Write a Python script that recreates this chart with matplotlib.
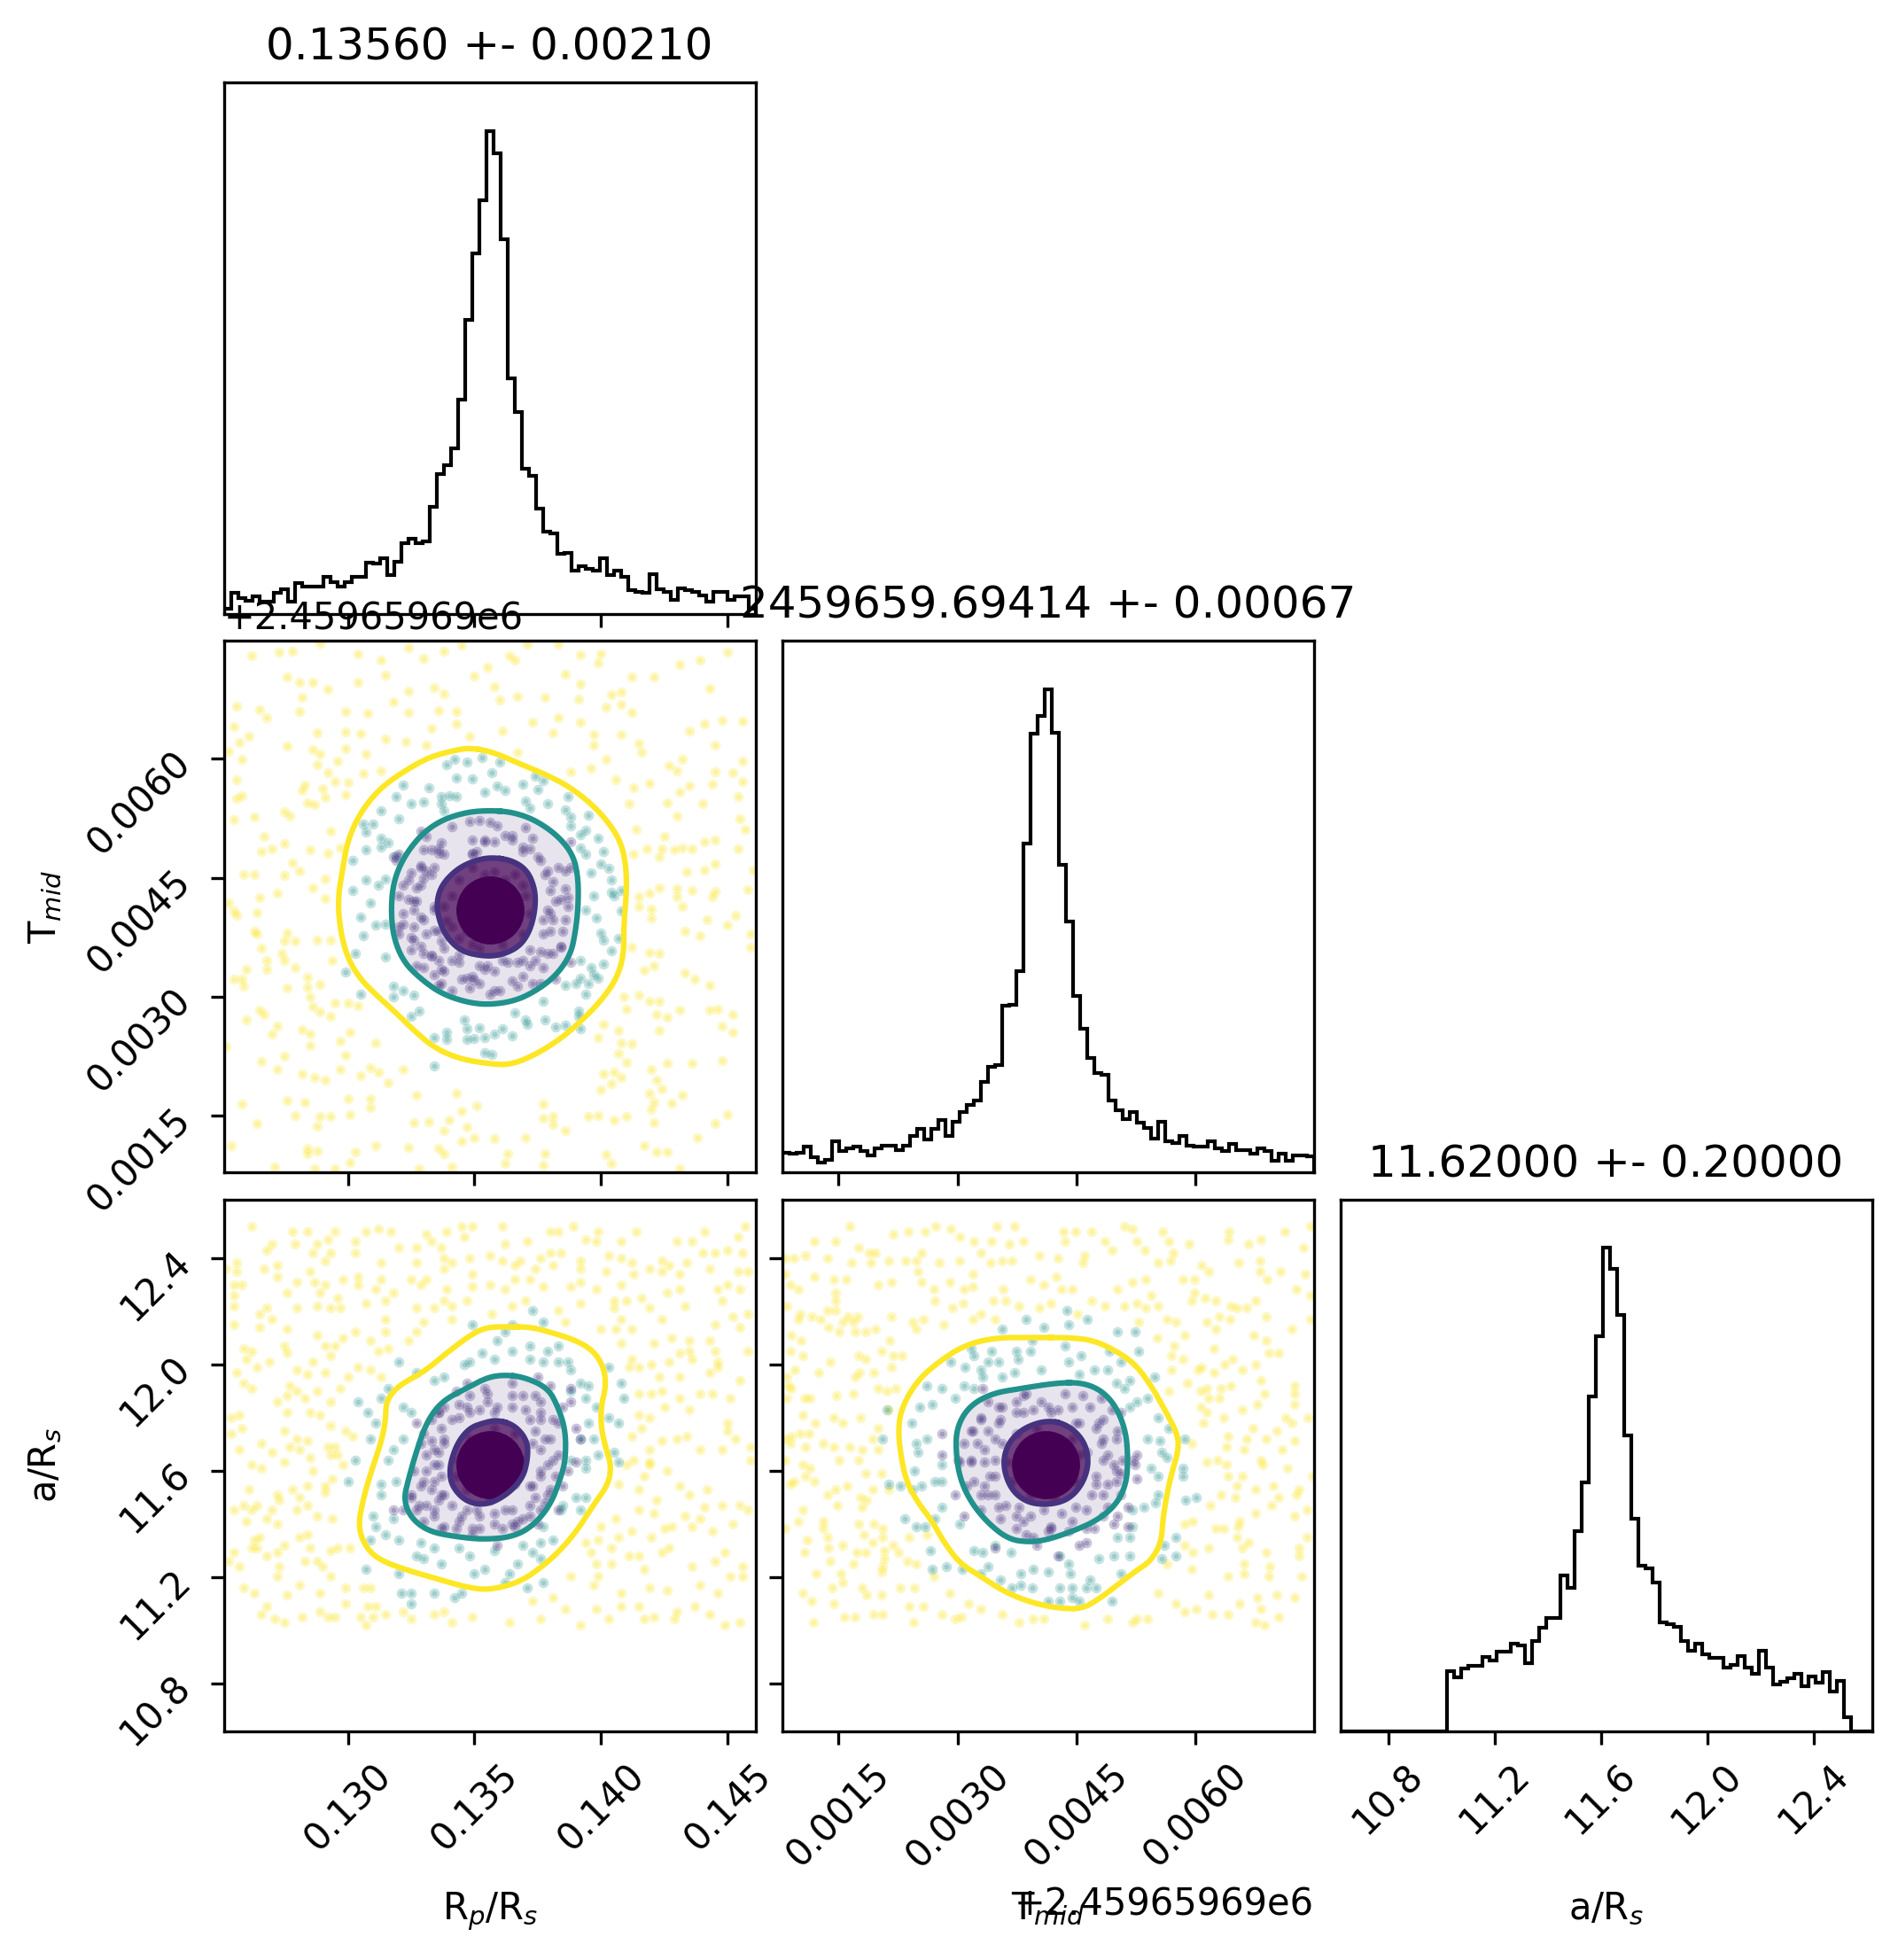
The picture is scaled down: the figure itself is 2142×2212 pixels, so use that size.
import numpy as np
import matplotlib
matplotlib.use("Agg")
import matplotlib.pyplot as plt

# ---------- histogram heights (relative counts), 75 bins per parameter ----------
rp_hist = [15,59,44,37,50,34,34,60,69,34,86,75,75,75,102,88,75,88,102,102,142,140,154,109,144,195,209,196,202,297,387,412,459,594,814,997,1145,1337,1274,1037,652,560,402,382,292,227,224,167,170,119,132,125,120,155,109,121,104,67,62,59,110,69,61,39,70,67,61,52,35,62,62,39,48,49,15]
t_hist = [55,53,56,74,42,28,35,88,60,68,74,61,48,69,77,77,63,77,104,125,93,125,150,103,144,172,193,205,258,300,307,476,479,575,939,1253,1302,1380,1255,878,715,504,409,327,284,279,204,177,151,173,142,126,95,145,88,83,104,77,73,74,89,69,61,82,64,63,54,69,61,32,54,32,49,49,46]
a_hist = [0]*15 + [170,152,178,187,187,210,200,227,227,248,245,193,257,295,323,323,443,408,571,710,955,1128,1380,1320,1187,843,607,472,464,423,310,305,297,257,229,248,220,208,208,180,188,215,180,162,230,180,132,140,150,162,127,155,139,169,112,143,39,0,0,0]

# parameter ranges (centre +- 5 sigma)
rp_mid, rp_err = 0.13560, 0.00210
t_zero = 2459659.69
t_mid, t_err = 2459659.69414, 0.00067
a_mid, a_err = 11.62, 0.20

rp_ticks = [0.130, 0.135, 0.140, 0.145]
t_ticks_rel = [0.0015, 0.0030, 0.0045, 0.0060]
a_ticks = [10.8, 11.2, 11.6, 12.0, 12.4]

titles = ["0.13560 +- 0.00210", "2459659.69414 +- 0.00067", "11.62000 +- 0.20000"]
labels = ["R$_p$/R$_s$", "T$_{mid}$", "a/R$_s$"]

# ---------- sample readings. Units: Rp in 1e-4, T in 1e-5 past t_zero, a in 0.01 ----------
rp_t_yellow = [(1262,730),(1273,734),(1278,736),(1289,746),(1304,732),(1313,724),(1324,740),(1330,727),(1338,736),(1345,743),(1364,730),(1371,744),(1383,744),(1392,731),(1400,732),(1399,721),(1431,719),(1439,724),(1450,735),
(1276,703),(1281,696),(1286,697),(1304,696),(1292,688),(1315,706),(1324,685),(1334,690),(1338,682),(1350,704),(1358,691),(1355,716),(1366,724),(1386,707),(1392,694),(1404,681),(1408,684),(1412,703),(1421,703),(1443,689),
(1256,666),(1265,662),(1268,652),(1281,660),(1282,678),(1299,660),(1308,657),(1318,672),(1324,658),(1336,661),(1343,660),(1360,674),(1367,679),(1378,677),(1391,675),(1402,665),(1408,669),(1412,659),(1373,646),(1383,652),
(1255,641),(1261,628),(1257,621),(1288,633),(1299,634),(1305,632),(1315,625),(1323,622),(1333,638),(1343,644),(1348,628),(1361,635),(1381,633),(1392,646),(1397,631),(1408,631),(1435,635),(1441,644),(1448,649),(1456,647),
(1253,609),(1258,599),(1276,616),(1286,612),(1289,606),(1299,613),(1296,597),(1307,606),(1288,593),(1331,617),(1367,608),(1397,617),(1415,619),(1416,608),(1402,599),(1445,617),(1432,599),(1456,597),
(1256,574),(1292,583),(1313,585),(1295,571),(1300,570),(1306,581),(1283,567),(1282,560),(1290,562),(1299,555),(1291,551),(1258,554),(1256,550),(1388,584),(1396,588),(1406,574),(1413,564),(1419,569),(1427,592),(1430,585),(1445,584),(1452,583),(1435,566),(1444,568),(1456,572),(1431,558),(1454,552),
(1284,545),(1287,542),(1275,533),(1277,528),(1263,527),(1255,523),(1411,543),(1426,545),(1440,544),(1430,528),(1455,524),(1457,511),(1267,502),(1275,493),(1266,483),(1270,487),(1285,485),(1292,481),(1293,509),(1297,488),(1414,511),(1425,502),(1441,495),(1445,498),(1424,487),(1429,485),(1432,488),(1436,487),(1454,487),(1418,487),(1413,480),(1423,476),(1434,458),(1441,460),(1445,468),(1460,460),
(1278,469),(1281,459),(1259,454),(1263,454),(1275,453),(1291,449),(1286,437),(1272,431),(1265,425),(1291,424),(1253,419),(1264,406),(1255,408),(1256,403),(1423,438),(1419,431),(1415,426),(1430,436),(1430,426),(1436,434),(1445,433),(1444,426),(1458,435),(1415,414),(1420,411),(1432,414),(1420,400),(1442,397),(1453,403),(1450,390),(1433,383),(1439,377),(1459,379),(1459,363),
(1263,383),(1276,380),(1264,379),(1275,370),(1279,370),(1288,372),(1293,372),(1266,361),(1274,355),(1268,346),(1275,346),(1279,337),(1260,335),(1268,335),(1294,346),(1284,325),(1255,322),(1258,322),(1259,314),(1276,311),(1284,312),(1289,316),(1285,300),(1295,292),(1300,292),(1304,289),(1286,288),(1265,283),(1267,278),(1289,281),(1293,275),(1260,271),(1272,263),(1282,259),(1270,253),(1285,253),(1252,238),(1297,244),(1301,255),(1311,242),(1285,239),(1275,225),(1266,219),(1272,208),(1299,226),(1282,203),(1287,198),(1297,208),(1291,195),(1305,201),(1309,211),(1312,205),(1322,208),(1316,192),
(1412,363),(1419,356),(1423,355),(1417,334),(1421,339),(1433,330),(1437,322),(1443,315),(1409,300),(1415,302),(1419,294),(1423,294),(1410,285),(1431,283),(1443,283),(1446,284),(1452,278),(1422,278),(1426,274),(1401,265),(1407,258),(1423,258),(1448,263),(1452,255),(1399,249),(1408,242),(1412,241),(1407,229),(1410,218),(1420,208),(1426,216),(1436,216),(1448,220),(1401,203),(1422,195),(1405,205),(1404,191),(1408,198),(1400,183),(1419,178),(1424,184),(1432,176),(1421,167),(1428,166),(1420,158),
(1258,165),(1264,140),(1276,169),(1279,150),(1283,167),(1288,137),(1289,149),(1293,149),(1300,172),(1301,152),(1309,172),(1309,161),(1326,142),(1332,143),(1327,176),(1343,178),(1351,163),(1340,145),(1345,156),(1347,136),(1338,132),(1350,123),(1358,121),(1370,123),(1377,165),(1381,149),(1377,147),(1386,132),(1381,139),(1395,149),(1399,150),(1405,145),(1410,149),(1421,141),(1445,140),(1450,152),(1438,123),(1254,113),(1284,109),(1284,102),(1288,106),(1303,105),(1311,113),(1324,110),(1336,109),(1338,103),(1345,118),(1363,102),(1378,103),(1402,101),(1404,90),(1417,113),(1422,105),(1426,105),(1271,86),(1287,84),(1295,83),(1301,91),(1328,83),(1341,86),(1362,90),(1377,88),(1431,83)]
rp_t_teal = [(1339,593),(1342,599),(1347,596),(1353,602),(1360,596),(1357,583),(1343,576),(1349,575),(1359,566),(1369,568),(1374,578),(1377,573),(1332,564),(1337,553),(1340,554),(1343,552),(1354,558),(1362,560),(1375,561),(1322,567),(1319,553),(1325,544),(1330,546),(1337,544),(1338,535),(1370,547),(1372,538),(1379,543),(1387,552),(1395,529),(1388,527),(1386,536),(1313,535),(1320,524),(1310,518),(1306,518),(1307,508),(1316,494),(1313,500),(1313,489),(1307,486),(1302,472),(1319,478),(1388,516),(1392,505),(1394,510),(1399,500),(1401,483),(1392,488),(1394,480),(1400,468),(1403,462),(1396,456),(1404,447),(1404,432),(1405,427),(1408,434),(1397,427),(1408,408),(1394,410),(1398,399),(1400,380),(1407,374),(1404,358),(1401,372),(1401,341),(1396,337),(1392,346),(1397,328),(1399,324),(1392,324),(1386,315),(1390,317),(1395,317),(1394,304),(1391,282),(1391,275),(1386,264),(1382,262),(1392,260),(1378,271),(1377,295),(1370,271),(1371,266),(1366,280),(1361,260),(1358,253),(1365,251),(1354,249),(1350,248),(1347,247),(1339,255),(1339,247),(1334,249),(1334,213),(1354,230),(1357,228),(1347,260),(1346,271),(1352,261),(1328,282),(1325,275),(1318,300),(1326,302),(1322,308),(1318,313),(1305,304),(1315,350),(1303,355),(1306,377),(1311,390),(1315,392),(1305,401),(1309,419),(1302,434),(1307,447),(1312,441),(1315,449),(1299,331)]
rp_t_blue = [(1348,521),(1352,522),(1356,520),(1359,516),(1341,515),(1329,509),(1331,502),(1336,487),(1330,485),(1320,480),(1318,476),(1329,463),(1333,454),(1324,447),(1327,438),(1320,427),(1326,421),(1322,405),(1326,388),(1320,379),(1331,379),(1326,372),(1325,359),(1333,352),(1338,361),(1337,335),(1330,337),(1347,324),(1350,321),(1344,344),(1356,304),(1360,308),(1354,335),(1367,313),(1363,344),(1369,346),(1373,317),(1376,357),(1381,355),(1384,363),(1388,344),(1380,383),(1385,383),(1387,414),(1382,421),(1380,434),(1386,436),(1378,454),(1383,463),(1388,463),(1375,476),(1369,489),(1365,498),(1354,496),(1358,496),(1349,480),(1349,498),(1338,480),(1370,513),(1373,500),(1388,496),(1334,414),(1330,397),(1336,383),(1377,397),(1380,405),(1341,346),(1352,339),(1348,311),(1337,317),(1334,328),(1377,337),(1382,322),(1372,339),(1358,333),
(1341,427),(1344,447),(1349,463),(1358,458),(1366,454),(1370,427),(1372,405),(1369,379),(1361,366),(1352,361),(1344,374),(1339,396),(1338,414),(1347,383),(1365,388),(1369,441),(1354,454),(1341,388),(1362,447),(1349,366),
(1331,459),(1334,463),(1330,450),(1336,481),(1333,485),(1337,494),(1349,481),(1351,483),(1354,498),(1362,503),(1365,503),(1369,483),(1372,487),(1376,472),(1379,459),(1381,445),(1386,459),(1384,423),(1387,425),(1379,410),(1381,397),(1386,397),(1377,379),(1384,364),(1379,355),(1372,359),(1374,346),(1367,344),(1361,346),(1355,339),(1349,326),(1345,322),(1338,333),(1333,353),(1336,346),(1329,364),(1330,355),(1325,375),(1322,392),(1326,410),(1329,401),(1324,423),(1327,421),(1322,441),(1329,441),(1325,456),(1329,465),(1319,472),(1334,410),(1334,384),(1337,370),(1344,353),(1352,317),(1358,308),(1365,320),(1369,326),(1376,317),(1341,308),(1336,315),(1327,339),(1320,388)]
rp_t_core = [(1356,410)]
rp_t_contour_yellow = [(1348,614),(1357,609),(1367,595),(1377,582),(1387,566),(1396,544),(1403,520),(1408,494),(1410,463),(1410,427),(1409,392),(1409,352),(1406,322),(1400,295),(1392,269),(1384,247),(1374,227),(1364,214),(1355,216),(1344,222),(1334,236),(1326,258),(1319,280),(1312,300),(1305,322),(1300,348),(1297,383),(1296,423),(1298,463),(1300,498),(1305,533),(1313,564),(1323,586),(1332,602),(1341,610)]
rp_t_contour_teal = [(1356,535),(1365,533),(1374,523),(1383,503),(1389,479),(1391,450),(1391,415),(1390,384),(1388,353),(1382,326),(1374,307),(1366,295),(1356,290),(1347,293),(1337,304),(1329,322),(1322,344),(1318,375),(1317,410),(1318,445),(1322,476),(1329,505),(1337,523),(1347,533)]
rp_t_contour_purple = [(1357,476),(1365,472),(1371,459),(1374,435),(1374,410),(1372,384),(1368,364),(1361,353),(1354,351),(1345,357),(1339,375),(1336,397),(1335,419),(1337,441),(1343,461),(1350,472)]

rp_a_yellow = [(1262,1252),(1278,1250),(1284,1250),(1295,1250),(1307,1250),(1312,1251),(1317,1250),(1331,1249),(1339,1250),(1345,1252),(1349,1252),(1361,1252),(1380,1250),(1383,1250),(1389,1252),(1399,1250),(1414,1250),(1441,1250),(1457,1252),
(1270,1245),(1279,1245),(1288,1245),(1292,1247),(1303,1246),(1303,1242),(1320,1244),(1327,1244),(1333,1246),(1337,1244),(1346,1248),(1362,1245),(1371,1246),(1394,1247),(1398,1246),(1408,1246),(1430,1246),(1436,1246),(1454,1248),
(1268,1243),(1286,1242),(1293,1242),(1291,1239),(1348,1240),(1356,1241),(1338,1240),(1361,1239),(1368,1239),(1376,1240),(1384,1242),(1380,1242),(1392,1239),(1403,1241),(1408,1240),(1445,1242),(1450,1243),(1440,1242),(1456,1242),
(1256,1238),(1256,1235),(1252,1236),(1267,1236),(1272,1237),(1285,1235),(1313,1238),(1327,1238),(1338,1236),(1341,1238),(1349,1234),(1366,1237),(1374,1236),(1381,1237),(1392,1236),(1402,1235),(1412,1238),(1413,1234),(1419,1236),(1424,1239),(1424,1235),(1427,1237),(1431,1234),(1434,1238),(1443,1236),(1454,1235),(1458,1235),
(1255,1230),(1258,1230),(1255,1226),(1255,1222),(1272,1233),(1280,1231),(1287,1231),(1291,1230),(1298,1232),(1304,1233),(1304,1230),(1313,1232),(1289,1227),(1296,1225),(1276,1227),(1311,1228),(1318,1227),(1325,1232),(1329,1230),(1315,1224),(1307,1223),(1288,1222),(1293,1221),(1297,1221),(1280,1221),(1268,1221),(1331,1232),(1339,1228),(1349,1229),(1356,1230),(1362,1228),(1366,1232),(1372,1232),(1377,1229),(1392,1231),(1388,1229),(1398,1228),(1408,1230),(1416,1225),(1426,1227),(1431,1228),(1446,1228),(1455,1228),(1450,1230),(1405,1224),(1410,1224),(1338,1224),(1347,1224),(1370,1224),(1392,1223),(1405,1221),(1419,1221),(1433,1222),(1448,1224),(1327,1221),(1334,1221),(1341,1222),(1357,1219),(1365,1222),(1383,1220),
(1265,1219),(1270,1217),(1255,1215),(1265,1214),(1276,1213),(1288,1211),(1298,1210),(1303,1212),(1315,1212),(1327,1212),(1330,1216),(1341,1217),(1315,1217),(1324,1209),(1309,1209),(1291,1207),(1295,1207),(1275,1207),(1259,1206),(1276,1204),(1262,1205),(1260,1202),(1269,1201),(1286,1201),(1293,1203),(1312,1205),(1304,1199),(1316,1206),(1264,1199),(1256,1197),(1280,1198),(1291,1197),(1284,1196),(1300,1195),(1309,1198),(1313,1195),
(1386,1216),(1400,1213),(1406,1213),(1412,1213),(1424,1217),(1408,1217),(1445,1215),(1455,1214),(1452,1218),(1458,1219),(1408,1208),(1421,1208),(1428,1210),(1435,1209),(1443,1209),(1431,1204),(1435,1205),(1445,1205),(1458,1205),(1412,1202),(1420,1200),(1427,1201),(1436,1202),(1446,1201),(1415,1199),(1411,1199),(1423,1195),(1431,1195),(1455,1194),(1446,1199),(1443,1197),
(1259,1193),(1262,1191),(1277,1192),(1288,1190),(1280,1190),(1297,1191),(1272,1186),(1276,1188),(1283,1187),(1293,1186),(1285,1182),(1276,1182),(1289,1181),(1254,1180),(1257,1181),(1258,1176),(1275,1175),(1293,1177),(1299,1175),(1302,1173),(1254,1174),(1280,1172),(1284,1171),(1266,1170),(1277,1169),(1281,1168),(1292,1169),(1295,1169),(1257,1168),(1270,1167),(1285,1165),(1293,1166),(1296,1166),
(1415,1189),(1420,1189),(1424,1190),(1431,1187),(1439,1189),(1444,1189),(1435,1183),(1451,1187),(1425,1184),(1415,1181),(1419,1180),(1416,1176),(1450,1178),(1450,1175),(1412,1173),(1430,1172),(1434,1173),(1453,1172),(1424,1171),(1459,1169),(1439,1168),(1448,1168),(1419,1168),(1410,1162),(1419,1163),(1426,1160),(1459,1164),(1413,1164),
(1262,1162),(1266,1161),(1275,1163),(1286,1160),(1294,1157),(1298,1162),(1284,1154),(1278,1153),(1291,1154),(1261,1153),(1272,1151),(1273,1149),(1281,1150),(1284,1147),(1291,1152),(1264,1147),(1259,1147),(1255,1145),(1262,1145),(1270,1145),(1268,1142),(1260,1141),(1288,1143),(1294,1142),(1272,1140),(1280,1145),(1284,1136),(1265,1135),(1281,1135),(1263,1134),(1262,1131),(1275,1132),(1264,1131),(1285,1131),(1293,1130),(1296,1131),(1301,1131),(1255,1129),(1268,1128),(1272,1129),(1253,1126),(1283,1126),(1288,1126),(1257,1124),(1290,1124),(1273,1124),
(1417,1158),(1431,1154),(1442,1153),(1407,1155),(1415,1153),(1419,1162),(1435,1151),(1422,1149),(1415,1145),(1448,1147),(1441,1146),(1455,1147),(1458,1145),(1421,1144),(1433,1143),(1439,1142),(1406,1142),(1400,1139),(1428,1139),(1425,1138),(1436,1139),(1452,1140),(1444,1137),(1420,1135),(1407,1135),(1399,1134),(1412,1137),(1394,1133),(1404,1131),(1427,1131),(1424,1129),(1411,1128),(1415,1128),(1396,1129),(1436,1124),(1445,1126),(1449,1129),(1456,1124),(1398,1125),(1404,1125),(1388,1120),
(1272,1120),(1281,1117),(1259,1116),(1263,1114),(1276,1113),(1289,1114),(1293,1120),(1299,1116),(1306,1116),(1309,1116),(1268,1109),(1266,1106),(1271,1104),(1275,1103),(1282,1105),(1289,1107),(1292,1105),(1295,1105),(1299,1110),(1305,1105),(1308,1109),(1310,1105),(1315,1106),(1311,1109),(1322,1107),(1325,1104),(1307,1102),(1334,1106),(1341,1103),(1338,1107),(1349,1105),(1364,1103),(1376,1104),(1373,1111),(1381,1112),(1386,1108),(1392,1102),(1398,1108),(1403,1104),(1408,1109),(1415,1109),(1417,1104),(1421,1105),(1429,1104),(1430,1107),(1437,1109),(1443,1106),(1449,1102),(1455,1103),(1408,1114),(1397,1117),(1399,1120),(1419,1116),(1426,1115),(1439,1117),(1446,1114),(1451,1120),(1456,1120),(1417,1123)]
rp_a_teal = [(1362,1212),(1349,1215),(1373,1220),(1377,1216),(1365,1215),(1348,1201),(1353,1204),(1359,1209),(1365,1205),(1372,1207),(1383,1207),(1379,1205),(1387,1201),(1346,1200),(1358,1202),(1372,1202),(1388,1198),(1383,1201),(1377,1201),(1403,1199),(1408,1193),(1392,1193),(1395,1192),(1388,1190),(1394,1187),(1409,1187),(1398,1184),(1407,1178),(1403,1180),(1395,1178),(1392,1172),(1397,1172),(1399,1166),(1405,1167),(1394,1164),(1388,1164),(1394,1161),(1407,1163),(1390,1150),(1394,1150),(1392,1145),(1385,1147),(1384,1145),(1377,1139),(1381,1134),(1376,1133),(1369,1132),(1373,1129),(1376,1127),(1367,1125),(1364,1121),(1362,1118),(1371,1116),(1377,1118),(1354,1123),(1348,1128),(1344,1131),(1350,1121),(1342,1112),(1345,1114),(1334,1114),(1325,1114),(1321,1114),(1325,1110),(1337,1125),(1327,1128),(1330,1127),(1320,1121),(1307,1123),(1315,1136),(1309,1134),(1311,1139),(1310,1143),(1300,1156),(1303,1164),(1309,1172),(1311,1178),(1308,1182),(1304,1186),(1313,1187),(1322,1184),(1325,1182),(1316,1191),(1320,1201),(1327,1197),(1338,1195),(1334,1194),(1322,1172),(1318,1168),(1316,1164),(1313,1155),(1313,1151),(1319,1156),(1318,1142),(1320,1134),(1329,1133),(1334,1131),(1358,1130)]
rp_a_blue = [(1355,1189),(1347,1193),(1365,1193),(1375,1195),(1380,1192),(1336,1182),(1344,1185),(1355,1186),(1365,1188),(1374,1188),(1376,1182),(1381,1179),(1372,1179),(1378,1172),(1381,1164),(1376,1160),(1380,1153),(1374,1150),(1378,1148),(1367,1141),(1365,1140),(1358,1140),(1352,1138),(1345,1143),(1337,1138),(1334,1145),(1328,1147),(1330,1156),(1334,1162),(1336,1167),(1333,1171),(1341,1179),(1348,1182),(1325,1150),(1327,1178),(1388,1186),(1390,1176),(1390,1163),(1385,1154),(1383,1145),(1375,1140),(1359,1132),(1349,1136),(1343,1138),(1330,1141),(1322,1145),(1318,1145),(1344,1164),(1343,1158),(1347,1153),(1356,1149),(1366,1155),(1369,1164),(1366,1174),(1358,1176),(1348,1172),(1337,1158),(1338,1151),(1351,1145),(1362,1145),(1372,1154),(1373,1170),(1338,1170),(1333,1153),(1336,1149),
(1331,1166),(1334,1168),(1331,1160),(1336,1162),(1334,1156),(1337,1151),(1341,1147),(1347,1145),(1344,1141),(1352,1143),(1358,1144),(1365,1145),(1369,1142),(1372,1147),(1376,1145),(1373,1154),(1376,1158),(1379,1162),(1376,1168),(1380,1172),(1374,1175),(1376,1179),(1370,1183),(1365,1184),(1359,1184),(1358,1182),(1352,1183),(1347,1184),(1344,1180),(1337,1176),(1338,1172),(1336,1182),(1330,1174),(1329,1170),(1326,1160),(1329,1154),(1325,1151),(1331,1147),(1327,1145),(1334,1143),(1338,1139),(1349,1138),(1361,1138),(1366,1139),(1369,1188),(1376,1186),(1383,1178),(1383,1166),(1382,1158),(1379,1151),(1372,1143),(1354,1191),(1348,1188),(1343,1190),(1338,1184),(1333,1179),(1385,1184),(1388,1191),(1392,1172),(1387,1160)]
rp_a_core = [(1356,1162)]
rp_a_contour_yellow = [(1363,1214),(1372,1214),(1380,1212),(1390,1209),(1397,1205),(1401,1199),(1402,1192),(1400,1184),(1400,1176),(1402,1168),(1404,1162),(1403,1155),(1397,1147),(1391,1138),(1384,1130),(1377,1124),(1368,1118),(1356,1115),(1347,1116),(1336,1119),(1325,1122),(1313,1126),(1307,1131),(1304,1139),(1306,1149),(1309,1159),(1313,1170),(1315,1179),(1315,1186),(1320,1192),(1330,1197),(1340,1205),(1350,1212),(1356,1214)]
rp_a_contour_teal = [(1362,1196),(1370,1195),(1379,1191),(1383,1184),(1386,1175),(1386,1164),(1384,1157),(1380,1147),(1373,1139),(1365,1135),(1354,1134),(1343,1135),(1332,1137),(1325,1142),(1322,1149),(1324,1157),(1327,1167),(1331,1178),(1337,1186),(1347,1191),(1355,1195)]
rp_a_contour_purple = [(1359,1179),(1366,1177),(1371,1171),(1371,1164),(1369,1157),(1363,1151),(1355,1147),(1347,1148),(1341,1154),(1340,1161),(1343,1170),(1348,1176),(1354,1178)]

t_a_yellow = [(164,1252),(219,1249),(238,1250),(259,1250),(273,1252),(292,1251),(350,1252),(372,1252),(433,1250),(449,1250),(469,1250),(510,1252),(521,1251),(558,1250),(642,1250),(713,1250),(745,1252),
(120,1246),(147,1246),(175,1244),(189,1242),(197,1242),(255,1242),(303,1248),(321,1246),(343,1246),(330,1242),(365,1245),(383,1246),(403,1241),(436,1246),(460,1241),(486,1246),(495,1243),(526,1246),(536,1243),(592,1245),(566,1246),(572,1242),(641,1247),(667,1245),(683,1247),(736,1244),
(83,1240),(94,1240),(108,1241),(136,1240),(166,1238),(191,1238),(213,1239),(235,1239),(248,1239),(277,1238),(303,1239),(342,1238),(356,1239),(369,1239),(427,1240),(458,1238),(553,1238),(568,1239),(654,1238),(681,1239),(608,1237),
(83,1234),(120,1233),(144,1232),(160,1232),(217,1231),(250,1235),(255,1231),(290,1231),(319,1234),(392,1232),(409,1230),(425,1233),(520,1231),(537,1232),(584,1232),(599,1232),(617,1235),(707,1235),(681,1235),(690,1232),(738,1234),(89,1230),(100,1228),(147,1227),(200,1230),(270,1228),(308,1228),(319,1229),(358,1228),(431,1228),(445,1228),(502,1228),(544,1226),(599,1227),(727,1228),(745,1226),
(85,1222),(147,1224),(147,1220),(136,1220),(162,1218),(174,1218),(217,1218),(272,1224),(294,1221),(307,1223),(345,1224),(361,1224),(378,1222),(403,1221),(418,1223),(451,1219),(469,1224),(486,1222),(511,1222),(526,1223),(537,1221),(553,1222),(595,1224),(612,1225),(625,1224),(645,1222),(652,1221),(665,1221),(676,1224),
(102,1219),(116,1218),(127,1217),(100,1217),(155,1216),(169,1216),(197,1213),(244,1216),(248,1213),(257,1217),(283,1215),(319,1217),(330,1219),(347,1217),(528,1216),(564,1217),(575,1216),(614,1216),(630,1218),(643,1217),(689,1218),(722,1213),(745,1217),
(91,1211),(138,1214),(151,1212),(171,1212),(184,1212),(215,1209),(103,1209),(552,1210),(586,1211),(625,1213),(674,1211),(689,1209),(573,1207),(623,1206),(647,1202),(692,1204),(705,1204),(89,1205),(140,1201),(105,1203),(175,1203),(204,1205),(219,1203),(230,1203),(184,1202),(570,1203),(584,1202),(608,1199),(637,1200),(676,1200),
(95,1198),(85,1195),(87,1192),(125,1197),(177,1197),(195,1197),(217,1199),(171,1195),(91,1191),(200,1191),(211,1190),(222,1191),(570,1198),(590,1193),(603,1198),(623,1197),(659,1198),(645,1192),(683,1194),(725,1192),(632,1191),(606,1190),(614,1191),(566,1190),(687,1189),
(85,1187),(107,1187),(114,1187),(148,1188),(169,1189),(213,1183),(144,1180),(121,1178),(155,1178),(178,1180),(105,1181),(200,1176),(617,1187),(630,1187),(725,1189),(725,1185),(606,1184),(614,1182),(659,1183),(636,1180),(678,1185),(714,1180),(722,1178),(742,1180),(610,1178),(672,1176),
(102,1174),(91,1173),(113,1174),(193,1172),(83,1172),(89,1170),(131,1170),(144,1169),(164,1169),(180,1168),(109,1169),(200,1168),(641,1173),(703,1175),(689,1172),(725,1171),(639,1169),(661,1168),(665,1172),(709,1168),(614,1163),(628,1164),(595,1170),
(83,1164),(151,1164),(175,1164),(105,1162),(114,1161),(120,1156),(109,1158),(94,1156),(89,1155),(205,1159),(184,1159),(639,1162),(659,1158),(641,1158),(683,1164),(716,1161),(747,1158),(685,1162),(652,1154),(676,1153),(698,1154),(731,1153),(650,1150),
(147,1153),(161,1154),(193,1153),(213,1153),(136,1151),(149,1147),(178,1150),(186,1149),(180,1146),(105,1145),(100,1141),(619,1147),(632,1151),(696,1147),(705,1150),(727,1151),(676,1144),(656,1141),(725,1143),(740,1145),(636,1138),(625,1138),(653,1139),(597,1141),(586,1140),(83,1138),(131,1141),(131,1138),(175,1140),(195,1140),(206,1138),(111,1134),(136,1135),(182,1136),(206,1135),(239,1135),(261,1136),(138,1131),(155,1132),(193,1133),(208,1130),(219,1132),(652,1135),(667,1133),(731,1131),(740,1135),(617,1131),(586,1132),(597,1129),(659,1131),(689,1129),(731,1128),
(107,1129),(140,1126),(173,1129),(184,1129),(169,1125),(208,1127),(226,1129),(237,1126),(248,1125),(206,1124),(122,1121),(153,1121),(205,1122),(270,1120),(142,1116),(155,1118),(180,1116),(228,1116),(246,1116),(105,1114),(186,1113),(204,1113),(144,1110),(239,1109),(257,1109),(116,1111),(171,1105),(158,1105),(195,1106),(206,1106),(119,1103),(245,1103),(281,1106),(305,1105),(297,1104),(290,1114),(314,1110),(330,1108),(356,1106),(378,1103),(396,1104),(409,1104),(460,1102),(489,1104),(520,1103),(526,1104),(539,1104),(553,1114),(575,1110),(586,1107),(601,1108),(621,1106),(641,1106),(656,1110),(676,1103),(687,1102),(705,1105),(683,1108),(617,1113),(678,1112),(703,1113),(725,1112),(641,1120),(661,1121),(692,1120),(734,1120),(595,1123),(694,1124),(661,1125),(564,1125)]
t_a_teal = [(356,1213),(387,1217),(409,1214),(438,1220),(440,1215),(464,1217),(502,1212),(524,1212),(394,1209),(436,1207),(317,1206),(343,1205),(374,1205),(392,1205),(456,1203),(491,1205),(528,1205),(548,1195),(292,1201),(321,1203),(339,1201),(352,1201),(376,1202),(440,1201),(310,1199),(330,1198),(372,1197),(405,1198),(489,1198),(506,1201),(517,1194),(308,1192),(321,1191),(332,1195),(356,1195),(453,1196),(473,1198),(500,1193),(511,1191),(539,1187),(526,1186),(517,1184),(553,1180),(566,1176),(539,1172),(555,1171),(586,1172),(564,1165),(557,1167),(553,1158),(544,1161),(584,1158),(584,1161),(601,1150),(588,1149),(550,1148),(553,1151),(535,1146),(520,1145),(520,1139),(502,1135),(517,1135),(561,1132),(575,1135),(575,1128),(557,1127),(517,1128),(497,1128),(478,1127),(506,1121),(495,1111),(467,1119),(475,1116),(462,1116),(440,1125),(429,1128),(414,1122),(442,1121),(445,1116),(429,1116),(414,1111),(429,1111),(445,1112),(453,1111),(396,1123),(380,1121),(394,1116),(369,1116),(380,1117),(367,1129),(347,1132),(332,1129),(321,1130),(339,1124),(354,1119),(330,1121),(306,1123),(268,1123),(286,1124),(266,1130),(303,1140),(248,1139),(259,1139),(272,1142),(280,1146),(233,1142),(255,1154),(244,1153),(228,1154),(213,1155),(272,1156),(281,1156),(281,1162),(246,1160),(248,1170),(261,1172),(250,1167),(206,1172),(242,1178),(261,1192),(268,1185),(252,1184),(281,1191),(297,1187),(211,1183)]
t_a_blue = [(332,1191),(356,1184),(330,1180),(354,1179),(383,1188),(405,1186),(436,1189),(458,1188),(482,1187),(495,1183),(475,1176),(500,1172),(482,1170),(522,1164),(500,1160),(526,1157),(489,1155),(506,1151),(489,1146),(515,1146),(497,1140),(515,1139),(462,1133),(453,1132),(473,1138),(418,1138),(414,1137),(387,1136),(383,1141),(352,1146),(330,1151),(339,1151),(303,1163),(317,1163),(334,1168),(319,1175),(281,1174),(281,1166),(297,1151),(308,1143),(347,1131),(427,1128),(400,1132),(445,1141),(374,1143),(347,1164),(347,1158),(484,1164),(475,1155),(464,1167),(449,1178),(418,1182),(383,1182),(356,1170),(374,1174),(400,1176),(445,1172),(453,1166),(449,1156),(422,1150),(392,1151),(369,1156),(363,1163),(383,1166),
(330,1179),(352,1184),(339,1186),(374,1186),(387,1189),(414,1184),(427,1183),(445,1184),(467,1184),(484,1179),(478,1178),(502,1175),(489,1166),(497,1162),(475,1158),(500,1156),(484,1151),(469,1151),(462,1145),(449,1146),(431,1144),(418,1139),(409,1145),(392,1143),(378,1146),(361,1147),(347,1151),(334,1154),(341,1158),(321,1156),(317,1164),(334,1163),(347,1172),(325,1170),(317,1175),(339,1175),(352,1178),(374,1182),(396,1183),(453,1178),(484,1172),(508,1164),(506,1159),(524,1162),(526,1166),(506,1182),(308,1170),(301,1164),(312,1154),(330,1145),(354,1142),(374,1138),(396,1135),(440,1137),(462,1138),(484,1143),(502,1143)]
t_a_core = [(411,1162)]
t_a_contour_yellow = [(400,1210),(440,1210),(471,1209),(500,1205),(524,1200),(544,1192),(561,1183),(577,1174),(579,1168),(570,1159),(564,1151),(559,1142),(557,1133),(544,1126),(524,1122),(502,1117),(480,1112),(458,1108),(431,1108),(396,1110),(361,1114),(330,1120),(303,1125),(283,1133),(268,1141),(250,1148),(237,1155),(230,1163),(225,1175),(230,1184),(250,1194),(277,1201),(308,1207),(347,1210)]
t_a_contour_teal = [(427,1193),(458,1193),(482,1190),(500,1184),(512,1175),(515,1165),(513,1155),(500,1147),(475,1141),(444,1137),(414,1134),(392,1133),(365,1134),(339,1140),(317,1148),(303,1157),(298,1167),(299,1176),(314,1184),(343,1189),(383,1191)]
t_a_contour_purple = [(414,1179),(440,1177),(460,1171),(466,1163),(458,1155),(440,1149),(414,1147),(387,1148),(367,1153),(357,1162),(363,1170),(383,1176)]

# ---------- styles ----------
YELLOW, TEAL, BLUE, PURPLE = "#fde725", "#21918c", "#46327e", "#440154"
DPI = 300
FIG_W, FIG_H = 2142, 2212
COLS = [252.6, 882.6, 1512.5]
ROWS = [93.0, 723.0, 1353.5]
SIZE = 600.0
plt.rcParams.update({"font.family": "DejaVu Sans", "font.size": 10, "axes.linewidth": 0.8,
                     "xtick.major.width": 0.8, "ytick.major.width": 0.8})


def rp_v(v):
    return np.asarray(v, float) * 1e-4

def t_v(v):
    return t_zero + np.asarray(v, float) * 1e-5

def a_v(v):
    return np.asarray(v, float) * 0.01


def rounded(x, y, passes=3):
    """Corner-cutting of a closed outline so the contour draws as a curve."""
    for _ in range(passes):
        xn, yn = np.roll(x, -1), np.roll(y, -1)
        x = np.column_stack((0.75 * x + 0.25 * xn, 0.25 * x + 0.75 * xn)).ravel()
        y = np.column_stack((0.75 * y + 0.25 * yn, 0.25 * y + 0.75 * yn)).ravel()
    return np.append(x, x[0]), np.append(y, y[0])


fig = plt.figure(figsize=(FIG_W / DPI, FIG_H / DPI), dpi=DPI)


def new_ax(row, col):
    return fig.add_axes([COLS[col] / FIG_W, 1 - (ROWS[row] + SIZE) / FIG_H, SIZE / FIG_W, SIZE / FIG_H])


lims = [(rp_mid - 5 * rp_err, rp_mid + 5 * rp_err),
        (t_mid - 5 * t_err, t_mid + 5 * t_err),
        (a_mid - 5 * a_err, a_mid + 5 * a_err)]
ticks = [rp_ticks, [t_zero + v for v in t_ticks_rel], a_ticks]
tick_text = [["0.130", "0.135", "0.140", "0.145"], ["0.0015", "0.0030", "0.0045", "0.0060"],
             ["10.8", "11.2", "11.6", "12.0", "12.4"]]
hists = [rp_hist, t_hist, a_hist]

# ---------- diagonal ----------
for i in range(3):
    ax = new_ax(i, i)
    edges = np.linspace(lims[i][0], lims[i][1], len(hists[i]) + 1)
    ax.stairs(hists[i], edges, color="k", lw=1.0, baseline=0, fill=False)
    ax.set_xlim(*lims[i])
    ax.set_ylim(0, 1.1 * max(hists[i]))
    ax.set_yticks([])
    ax.set_xticks(ticks[i])
    ax.set_title(titles[i], fontsize=12)
    if i < 2:
        ax.set_xticklabels([])
    else:
        ax.set_xticklabels(tick_text[2], rotation=45)
        ax.set_xlabel(labels[2])
        ax.xaxis.set_label_coords(0.5, -0.3)


# ---------- off-diagonal ----------
def draw_pairs(ax, xf, yf, yellow, teal, blue, core, cy, ct, cp):
    for pts, col, al in ((yellow, YELLOW, 0.25), (teal, TEAL, 0.25), (blue, BLUE, 0.28)):
        p = np.array(pts)
        ax.scatter(xf(p[:, 0]), yf(p[:, 1]), s=2.0, color=col, alpha=al, linewidths=1.4, zorder=2)
    smooth = {}
    for key, line in (("y", cy), ("t", ct), ("p", cp)):
        p = np.array(line)
        smooth[key] = rounded(xf(p[:, 0]), yf(p[:, 1]))
    ax.fill(*smooth["t"], color=BLUE, alpha=0.13, lw=0, zorder=1)
    ax.fill(*smooth["p"], color=PURPLE, alpha=0.72, lw=0, zorder=3)
    c = np.array(core)
    ax.scatter(xf(c[:, 0]), yf(c[:, 1]), s=340, color=PURPLE, linewidths=0, zorder=3)
    for key, col in (("y", YELLOW), ("t", TEAL), ("p", BLUE)):
        ax.plot(*smooth[key], color=col, lw=1.5, zorder=5, solid_joinstyle="round")


ax10 = new_ax(1, 0)
draw_pairs(ax10, rp_v, t_v, rp_t_yellow, rp_t_teal, rp_t_blue, rp_t_core,
           rp_t_contour_yellow, rp_t_contour_teal, rp_t_contour_purple)
ax20 = new_ax(2, 0)
draw_pairs(ax20, rp_v, a_v, rp_a_yellow, rp_a_teal, rp_a_blue, rp_a_core,
           rp_a_contour_yellow, rp_a_contour_teal, rp_a_contour_purple)
ax21 = new_ax(2, 1)
draw_pairs(ax21, t_v, a_v, t_a_yellow, t_a_teal, t_a_blue, t_a_core,
           t_a_contour_yellow, t_a_contour_teal, t_a_contour_purple)

for ax, ix, iy in ((ax10, 0, 1), (ax20, 0, 2), (ax21, 1, 2)):
    ax.set_xlim(*lims[ix])
    ax.set_ylim(*lims[iy])
    ax.set_xticks(ticks[ix])
    ax.set_yticks(ticks[iy])

ax10.set_xticklabels([])
ax10.tick_params(axis="y", labelrotation=45)
ax10.set_ylabel(labels[1])
ax10.yaxis.set_label_coords(-0.3, 0.5)

ax20.tick_params(axis="both", labelrotation=45)
ax20.set_xlabel(labels[0])
ax20.set_ylabel(labels[2])
ax20.xaxis.set_label_coords(0.5, -0.3)
ax20.yaxis.set_label_coords(-0.3, 0.5)

ax21.tick_params(axis="x", labelrotation=45)
ax21.set_yticklabels([])
ax21.set_xlabel(labels[1])
ax21.xaxis.set_label_coords(0.5, -0.3)

fig.savefig("out.png", dpi=DPI)
